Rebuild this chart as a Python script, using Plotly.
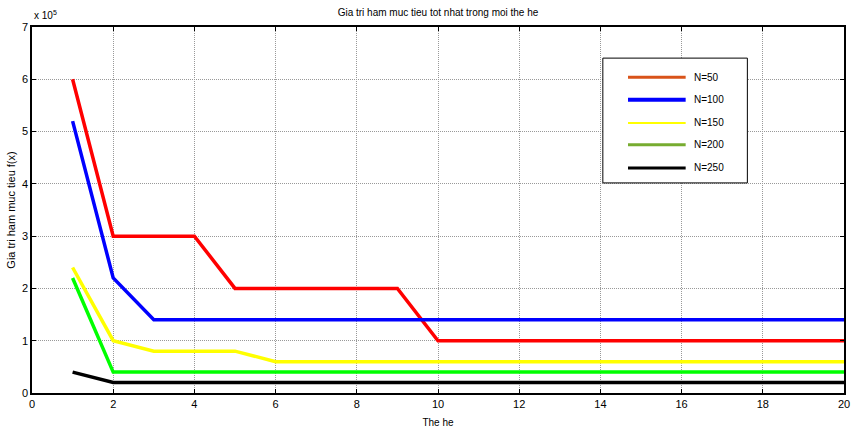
import plotly.graph_objects as go

generations = list(range(1, 21))
n50 = [6.0, 3.0, 3.0, 3.0, 2.0, 2.0, 2.0, 2.0, 2.0, 1.0] + [1.0] * 10
n100 = [5.2, 2.2, 1.4] + [1.4] * 17
n150 = [2.4, 1.0, 0.8, 0.8, 0.8, 0.6] + [0.6] * 14
n200 = [2.2, 0.4] + [0.4] * 18
n250 = [0.4, 0.2] + [0.2] * 18

series_names = ["N=50", "N=100", "N=150", "N=200", "N=250"]
series_values = [n50, n100, n150, n200, n250]
line_colors = ["#ff0000", "#0000ff", "#ffff00", "#00ff00", "#000000"]
legend_colors = ["#d95319", "#0000ff", "#ffff00", "#77ac30", "#000000"]
legend_widths = [3, 4, 2, 3, 3]

x_ticks = list(range(0, 21, 2))
y_ticks = list(range(0, 8))

fig = go.Figure()
for name, vals, col in zip(series_names, series_values, line_colors):
    fig.add_trace(go.Scatter(x=generations, y=vals, mode="lines", name=name,
                             line=dict(color=col, width=3.5), showlegend=False,
                             cliponaxis=False))

font = "Liberation Sans, Arial, sans-serif"

axis_common = dict(showline=True, linecolor="black", linewidth=1.5, mirror="ticks",
                   ticks="inside", ticklen=4, tickcolor="black", automargin=False,
                   showgrid=True, gridcolor="#999999", griddash="1px,1px", gridwidth=1,
                   zeroline=False, tickfont=dict(family=font, size=11, color="black"))

fig.update_xaxes(range=[0, 20], tickvals=x_ticks, **axis_common,
                 title=dict(text="The he", font=dict(family=font, size=10, color="black"), standoff=10))
fig.update_yaxes(range=[0, 7], tickvals=y_ticks, **axis_common,
                 title=dict(text="Gia tri ham muc tieu f(x)", font=dict(family=font, size=11, color="black"), standoff=4))

# Manual legend box
x0, x1 = 0.703, 0.881
y0, y1 = 0.574, 0.915
shapes = [dict(type="rect", xref="paper", yref="paper", x0=x0, x1=x1, y0=y0, y1=y1,
               line=dict(color="black", width=1), fillcolor="white", layer="above")]
row_y = [0.863, 0.801, 0.738, 0.678, 0.615]
annotations = []
for name, col, w, ry in zip(series_names, legend_colors, legend_widths, row_y):
    shapes.append(dict(type="line", xref="paper", yref="paper", x0=0.734, x1=0.805,
                       y0=ry, y1=ry, line=dict(color=col, width=w), layer="above"))
    annotations.append(dict(xref="paper", yref="paper", x=0.813, y=ry, text=name,
                            showarrow=False, xanchor="left", yanchor="middle",
                            font=dict(family=font, size=10, color="black")))

annotations.append(dict(xref="paper", yref="paper", x=0.0, y=1.0, yshift=4, text="x 10<sup>5</sup>",
                        showarrow=False, xanchor="left", yanchor="bottom",
                        font=dict(family=font, size=10, color="black")))

fig.update_layout(
    width=854, height=431,
    margin=dict(l=32, r=10, t=27, b=38),
    paper_bgcolor="white", plot_bgcolor="white",
    title=dict(text="Gia tri ham muc tieu tot nhat trong moi the he", x=0.5, xanchor="center",
               xref="paper", y=0.978, yanchor="top", font=dict(family=font, size=10, color="black")),
    shapes=shapes, annotations=annotations, showlegend=False,
)

fig.write_html("out.html", config={"displayModeBar": False},
               post_script="document.body.style.margin='0';document.body.style.overflow='hidden';")
